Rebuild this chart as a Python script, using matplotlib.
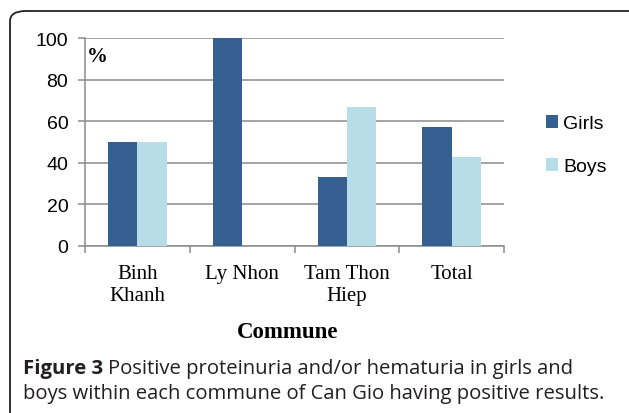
import numpy as np
import matplotlib.pyplot as plt
from matplotlib.patches import FancyBboxPatch

communes = ['Binh\nKhanh', 'Ly Nhon', 'Tam Thon\nHiep', 'Total']
girls = [50, 100, 33, 57]
boys = [50, 0, 67, 43]
yticks = [0, 20, 40, 60, 80, 100]

W, H = 629, 414
fig = plt.figure(figsize=(W / 100, H / 100), dpi=100)

# rounded frame around chart + caption
frame = FancyBboxPatch((10 / W, -40 / H), 640 / W, (414 - 12 + 40) / H,
                       boxstyle='round,pad=0,rounding_size=0.025',
                       transform=fig.transFigure, fill=False,
                       edgecolor='#222222', linewidth=1.3, clip_on=False)
fig.patches.append(frame)

ax = fig.add_axes([85 / W, 167 / H, (504 - 85) / W, 208 / H])
x = np.arange(len(communes))
bw = 0.28
ax.bar(x - bw / 2, girls, bw, color='#376092', label='Girls', zorder=3)
ax.bar(x + bw / 2, boys, bw, color='#b7dde8', label='Boys', zorder=3)

ax.set_xlim(-0.5, len(communes) - 0.5)
ax.set_ylim(0, 100)
ax.set_yticks(yticks)
ax.yaxis.grid(True, color='#8c8c8c', linewidth=1.1, zorder=0)
ax.tick_params(axis='y', length=5, color='#8c8c8c', width=1.1, pad=7,
               labelsize=14)
for lab in ax.get_yticklabels():
    lab.set_family('Liberation Sans')

ax.set_xticks(np.arange(len(communes) + 1) - 0.5)
ax.set_xticklabels([])
ax.set_xticks(x, minor=True)
ax.set_xticklabels(communes, minor=True, family='Liberation Serif',
                   fontsize=15, linespacing=1.2)
ax.tick_params(axis='x', which='major', length=5, color='#8c8c8c', width=1.1)
ax.tick_params(axis='x', which='minor', length=0, pad=13)

for s in ['top', 'right']:
    ax.spines[s].set_visible(False)
for s in ['left', 'bottom']:
    ax.spines[s].set_color('#8c8c8c')
    ax.spines[s].set_linewidth(1.1)

ax.text(0.005, 0.915, '%', transform=ax.transAxes, family='Liberation Serif',
        fontweight='bold', fontsize=15, va='center', ha='left')

ax.legend(loc='center left', bbox_to_anchor=(1.058, 0.486), frameon=False,
          prop={'family': 'Liberation Sans', 'size': 14},
          handlelength=0.65, handleheight=0.65, handletextpad=0.25,
          labelspacing=1.3)

fig.text(288 / W, 1 - 333 / H, 'Commune', family='Liberation Serif',
         fontweight='bold', fontsize=16.5, ha='center', va='center')

cap_kw = dict(family='Open Sans', fontsize=14.6, ha='left', va='center',
              color='#231f20')
t1 = fig.text(23 / W, 1 - 369 / H, 'Figure 3', fontweight='bold', **cap_kw)
fig.canvas.draw()
bb = t1.get_window_extent()
fig.text(bb.x1 / W + 5 / W, 1 - 369 / H,
         'Positive proteinuria and/or hematuria in girls and', **cap_kw)
fig.text(23 / W, 1 - 394 / H,
         'boys within each commune of Can Gio having positive results.',
         **cap_kw)

fig.savefig('out.png', dpi=100)
